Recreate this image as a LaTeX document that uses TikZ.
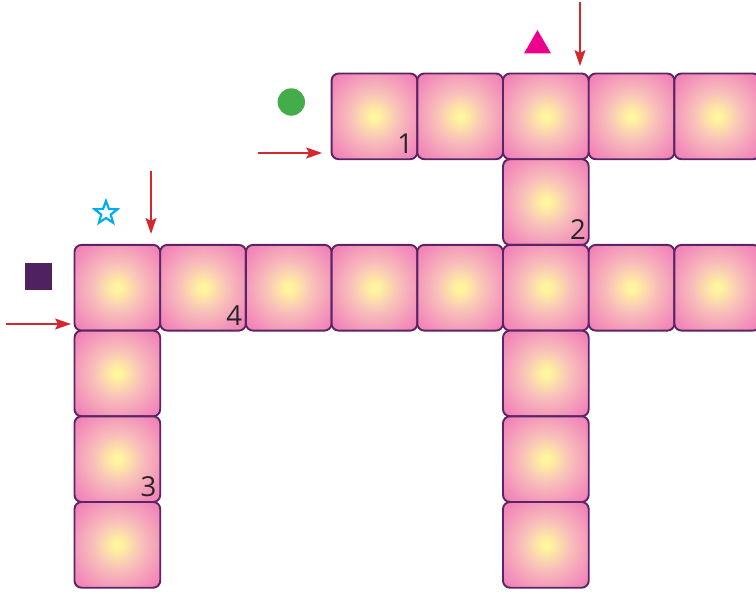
\documentclass[tikz,border=0pt]{standalone}
\usepackage{fontspec}
\setmainfont{Open Sans}
\usetikzlibrary{shapes.geometric,arrows.meta}
\definecolor{cellyel}{HTML}{FFF59E}
\definecolor{cellmid}{HTML}{F8C0BA}
\definecolor{cellmid2}{HTML}{F392BA}
\definecolor{cellpink}{HTML}{EE70AE}
\definecolor{celledge}{HTML}{5C2468}
\definecolor{arrred}{HTML}{D6262E}
\definecolor{dotgreen}{HTML}{43AD4A}
\definecolor{trimag}{HTML}{EC008C}
\definecolor{starcyan}{HTML}{00AEEF}
\definecolor{sqpurple}{HTML}{4F2160}
\pgfdeclareradialshading{cellsh}{\pgfpoint{0bp}{0bp}}{color(0bp)=(cellyel); color(2bp)=(cellyel); color(14bp)=(cellmid); color(27bp)=(cellmid2); color(39bp)=(cellpink); color(50bp)=(cellpink)}
\begin{document}
\begin{tikzpicture}[x=1pt,y=-1pt,
  cell/.style={rectangle, draw=celledge, line width=1.9pt, rounded corners=7pt, minimum size=85.7pt, inner sep=0pt, shade, shading=cellsh},
  num/.style={anchor=base east, font=\fontsize{27.5}{27.5}\selectfont, text=black!85, inner sep=0pt},
  arr/.style={draw=arrred, line width=1.3pt, -{Stealth[length=16pt,width=11pt,inset=3pt]}}]
\useasboundingbox (0,0) rectangle (756,594);
\foreach \c/\r in {3/0,4/0,5/0,6/0,7/0,5/1,0/2,1/2,2/2,3/2,4/2,5/2,6/2,7/2,0/3,0/4,0/5,5/3,5/4,5/5}
  \node[cell] (c\c-\r) at ({117.35+85.7*\c},{116.35+85.7*\r}) {};
\node[num] (n1) at ([shift={(-5,-6.5)}]c3-0.south east) {1};
\node[num] (n2) at ([shift={(-3.5,-6.5)}]c5-1.south east) {2};
\node[num] (n4) at ([shift={(-4.5,-6.5)}]c1-2.south east) {4};
\node[num] (n3) at ([shift={(-4.5,-6.5)}]c0-4.south east) {3};
\coordinate (a1s) at (258,153);
\draw[arr, shorten >=8.5pt] (a1s) -- (a1s -| c3-0.west);
\coordinate (b1s) at (580,2);
\draw[arr, shorten >=6.5pt] (b1s) -- (b1s |- c5-0.north);
\coordinate (c1s) at (151,171);
\draw[arr, shorten >=10pt] (c1s) -- (c1s |- c0-2.north);
\coordinate (d1s) at (6,324);
\draw[arr, shorten >=2.5pt] (d1s) -- (d1s -| c0-2.west);
\node[circle, fill=dotgreen, minimum size=27.4pt, inner sep=0pt] (dot) at (291.3,102) {};
\node[regular polygon, regular polygon sides=3, fill=trimag, minimum size=31.2pt, inner sep=0pt] (tri) at (537.5,45.6) {};
\node[star, star points=5, star point ratio=2.4, draw=starcyan, line width=2.2pt, fill=white, minimum size=24pt, inner sep=0pt] (st) at (106,213) {};
\node[rectangle, fill=sqpurple, minimum size=27pt, inner sep=0pt] (sq) at (38,276.7) {};
\end{tikzpicture}
\end{document}
